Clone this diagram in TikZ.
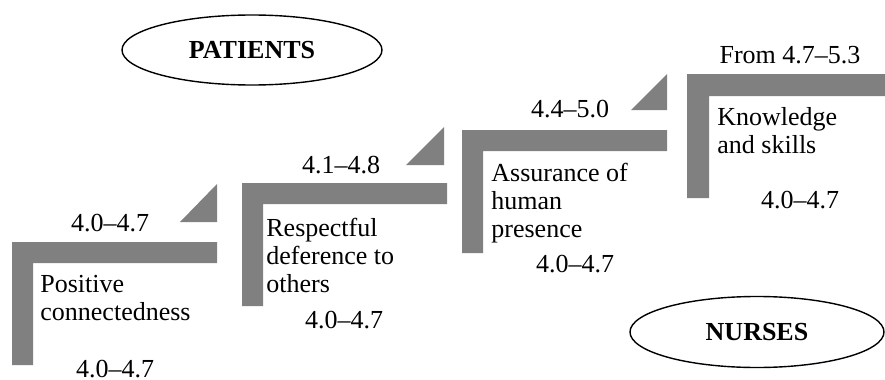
\documentclass[tikz,border=0pt]{standalone}
\usepackage{fontspec}
\setmainfont{Liberation Serif}
\usetikzlibrary{shapes.geometric}
\makeatletter
\renewcommand\small{%
  \@setfontsize\small{13pt}{14pt}%
}
\makeatother

\begin{document}
\begin{tikzpicture}[x=0.5pt, y=-0.5pt, every node/.style={font=\small, inner sep=0pt},
  bar/.style={fill=gray}, tag/.style={draw, ellipse, line width=0.7pt, font=\small\bfseries}]
  \useasboundingbox (0,0) rectangle (885,380);
  % stairs
  \fill[bar] (12,242) -- (217,242) -- (217,263) -- (33,263) -- (33,365) -- (12,365) -- cycle;
  \fill[bar] (242,183) -- (447,183) -- (447,204) -- (263,204) -- (263,306) -- (242,306) -- cycle;
  \fill[bar] (462,130) -- (667,130) -- (667,151) -- (483,151) -- (483,253) -- (462,253) -- cycle;
  \fill[bar] (687,74) -- (885,74) -- (885,96) -- (709,96) -- (709,198) -- (687,198) -- cycle;
  \fill[bar] (180,222) -- (217,222) -- (217,184) -- cycle;
  \fill[bar] (406,165) -- (444,165) -- (444,127) -- cycle;
  \fill[bar] (631,110) -- (667,110) -- (667,74) -- cycle;
  % labels (base = last line)
  \node[anchor=base] (top1) at (110,231) {4.0--4.7};
  \node[anchor=base west, align=left] (pos) at (40,320) {Positive\\connectedness};
  \node[anchor=base] (bot1) at (115,377) {4.0--4.7};
  \node[anchor=base] (top2) at (341,173) {4.1--4.8};
  \node[anchor=base west, align=left] (resp) at (266,292) {Respectful\\deference to\\others};
  \node[anchor=base] (bot2) at (344,328) {4.0--4.7};
  \node[anchor=base] (top3) at (570,118) {4.4--5.0};
  \node[anchor=base west, align=left] (assur) at (491,237) {Assurance of\\human\\presence};
  \node[anchor=base] (bot3) at (575,272) {4.0--4.7};
  \node[anchor=base] (top4) at (790,63) {From 4.7--5.3};
  \node[anchor=base west, align=left] (know) at (717,153) {Knowledge\\and skills};
  \node[anchor=base] (bot4) at (800,208) {4.0--4.7};
  \node[tag, minimum width=130pt, minimum height=35pt] (patients) at (252,50) {PATIENTS};
  \node[tag, minimum width=127pt, minimum height=35.5pt] (nurses) at (757,332) {NURSES};
\end{tikzpicture}
\end{document}
